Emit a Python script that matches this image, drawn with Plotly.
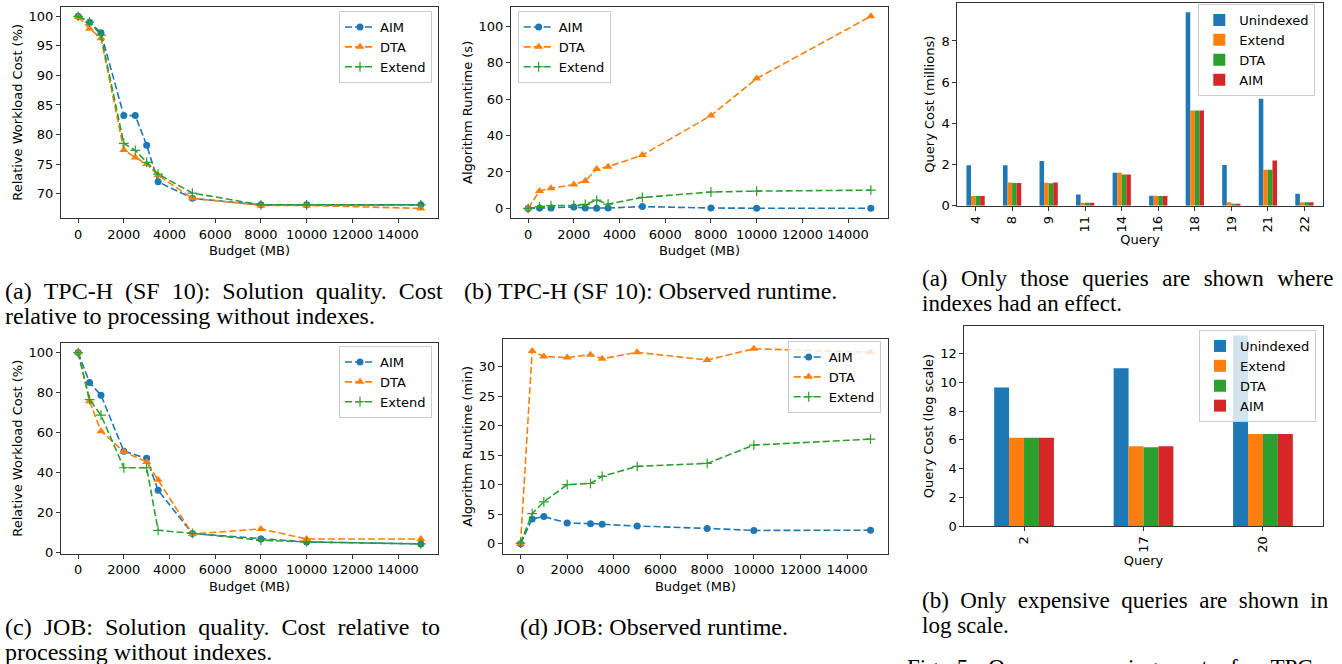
import plotly.graph_objects as go

W, H = 1342, 664

# ---------------- data ----------------
tpch_budget = [0, 500, 1000, 2000, 2500, 3000, 3500, 5000, 8000, 10000, 15000]
tpch_cost_aim = [100, 99.0, 97.2, 83.2, 83.2, 78.2, 72.0, 69.2, 68.1, 68.1, 68.1]
tpch_cost_dta = [99.9, 97.9, 96.3, 77.4, 76.1, 75.0, 73.1, 69.2, 68.0, 68.0, 67.5]
tpch_cost_extend = [100, 99.0, 96.8, 78.5, 77.3, 75.3, 73.3, 70.1, 68.1, 68.1, 68.1]

tpch_rt_aim = [0.0, 0.2, 0.2, 0.8, 0.2, 0.1, 0.2, 1.0, 0.2, 0.1, 0.1]
tpch_rt_dta = [0.0, 9.6, 11.1, 13.1, 15.1, 21.6, 22.9, 29.3, 51.0, 71.3, 105.5]
tpch_rt_extend = [0.0, 0.8, 1.5, 1.6, 2.2, 4.5, 2.4, 6.0, 9.0, 9.5, 10.0]

job_budget = [0, 500, 1000, 2000, 3000, 3500, 5000, 8000, 10000, 15000]
job_cost_aim = [100, 85.0, 78.7, 50.7, 47.1, 31.1, 9.5, 6.8, 5.3, 4.3]
job_cost_dta = [100, 75.7, 60.7, 50.4, 45.3, 36.4, 9.3, 11.8, 6.8, 6.8]
job_cost_extend = [100, 76.5, 68.7, 42.4, 42.4, 11.1, 9.6, 6.2, 5.3, 4.3]

job_rt_aim = [0.0, 4.2, 4.6, 3.5, 3.4, 3.3, 3.0, 2.6, 2.25, 2.3]
job_rt_dta = [0.0, 32.6, 31.7, 31.5, 32.0, 31.3, 32.4, 31.1, 33.0, 32.4]
job_rt_extend = [0.1, 5.1, 7.1, 10.0, 10.2, 11.4, 13.1, 13.6, 16.7, 17.7]

tpch_queries = ["4", "8", "9", "11", "14", "16", "18", "19", "21", "22"]
tpch_q_unindexed = [1.97, 1.97, 2.17, 0.55, 1.60, 0.48, 9.39, 1.98, 5.20, 0.58]
tpch_q_extend = [0.47, 1.13, 1.12, 0.14, 1.60, 0.48, 4.62, 0.17, 1.75, 0.17]
tpch_q_dta = [0.47, 1.10, 1.09, 0.14, 1.52, 0.47, 4.62, 0.08, 1.75, 0.17]
tpch_q_aim = [0.47, 1.10, 1.13, 0.14, 1.52, 0.47, 4.62, 0.08, 2.19, 0.17]

job_queries = ["2", "17", "20"]
job_q_unindexed = [9.65, 10.98, 13.26]
job_q_extend = [6.14, 5.56, 6.40]
job_q_dta = [6.14, 5.49, 6.40]
job_q_aim = [6.14, 5.56, 6.40]

# ---------------- style ----------------
BLUE, ORANGE, GREEN, RED = "#1f77b4", "#ff7f0e", "#2ca02c", "#d62728"
SANS = "DejaVu Sans"
SERIF = "Liberation Serif"
DASH = "7px,3px"
TICK_SIZE = 13
TITLE_SIZE = 13
LEG_SIZE = 13


def px_x(p):
    return p / W


def px_y(p):
    return 1 - p / H


def dom_x(a, b):
    return [px_x(a), px_x(b)]


def dom_y(top, bottom):
    return [px_y(bottom), px_y(top)]


def mrange(vals, lo_zero=False):
    lo, hi = min(vals), max(vals)
    if lo_zero:
        return [0, hi * 1.05]
    m = (hi - lo) * 0.05
    return [lo - m, hi + m]


fig = go.Figure()


def add_lines(xs, aim, dta, ext, xa, ya, leg):
    fig.add_trace(go.Scatter(x=xs, y=aim, name="AIM", mode="lines+markers",
                             line=dict(color=BLUE, width=1.6, dash=DASH),
                             marker=dict(symbol="circle", size=7, color=BLUE),
                             xaxis=xa, yaxis=ya, legend=leg))
    fig.add_trace(go.Scatter(x=xs, y=dta, name="DTA", mode="lines+markers",
                             line=dict(color=ORANGE, width=1.6, dash=DASH),
                             marker=dict(symbol="triangle-up", size=8, color=ORANGE),
                             xaxis=xa, yaxis=ya, legend=leg))
    fig.add_trace(go.Scatter(x=xs, y=ext, name="Extend", mode="lines+markers",
                             line=dict(color=GREEN, width=1.6, dash=DASH),
                             marker=dict(symbol="cross-thin", size=7, color=GREEN,
                                         line=dict(color=GREEN, width=1.2)),
                             xaxis=xa, yaxis=ya, legend=leg))


def add_bars(qs, un, ex, dt, am, xa, ya, leg):
    for nm, vals, col in (("Unindexed", un, BLUE), ("Extend", ex, ORANGE),
                          ("DTA", dt, GREEN), ("AIM", am, RED)):
        fig.add_trace(go.Bar(x=qs, y=vals, name=nm, marker=dict(color=col, line=dict(width=0)),
                             xaxis=xa, yaxis=ya, legend=leg))


add_lines(tpch_budget, tpch_cost_aim, tpch_cost_dta, tpch_cost_extend, "x", "y", "legend")
add_lines(tpch_budget, tpch_rt_aim, tpch_rt_dta, tpch_rt_extend, "x2", "y2", "legend2")
add_bars(tpch_queries, tpch_q_unindexed, tpch_q_extend, tpch_q_dta, tpch_q_aim, "x3", "y3", "legend3")
add_lines(job_budget, job_cost_aim, job_cost_dta, job_cost_extend, "x4", "y4", "legend4")
add_lines(job_budget, job_rt_aim, job_rt_dta, job_rt_extend, "x5", "y5", "legend5")
add_bars(job_queries, job_q_unindexed, job_q_extend, job_q_dta, job_q_aim, "x6", "y6", "legend6")

axis_common = dict(showline=True, mirror=True, linecolor="#333333", linewidth=1,
                   ticks="outside", ticklen=4, tickwidth=1, tickcolor="#333333",
                   showgrid=False, zeroline=False, automargin=False,
                   tickfont=dict(family=SANS, size=TICK_SIZE, color="black"))


def xaxis(domain, anchor, title, rng, standoff=5, **kw):
    d = dict(axis_common)
    d.update(domain=domain, anchor=anchor, range=rng,
             title=dict(text=title, standoff=standoff,
                        font=dict(family=SANS, size=TITLE_SIZE, color="black")))
    d.update(kw)
    return d


def yaxis(domain, anchor, title, rng, standoff=3, **kw):
    d = dict(axis_common)
    d.update(domain=domain, anchor=anchor, range=rng,
             title=dict(text=title, standoff=standoff,
                        font=dict(family=SANS, size=TITLE_SIZE, color="black")))
    d.update(kw)
    return d


bx = dict(tick0=0, dtick=2000, tickformat="d", tickangle=0)
budget_rng = mrange(tpch_budget)

layout_axes = dict(
    xaxis=xaxis(dom_x(61, 438), "y", "Budget (MB)", budget_rng, **bx),
    yaxis=yaxis(dom_y(6.7, 218), "x", "Relative Workload Cost (%)",
                mrange(tpch_cost_aim + tpch_cost_dta + tpch_cost_extend), dtick=5, tick0=0),
    xaxis2=xaxis(dom_x(511, 888), "y2", "Budget (MB)", budget_rng, **bx),
    yaxis2=yaxis(dom_y(6.7, 218), "x2", "Algorithm Runtime (s)",
                 mrange(tpch_rt_aim + tpch_rt_dta + tpch_rt_extend), dtick=20, tick0=0),
    xaxis3=xaxis(dom_x(957.3, 1322.7), "y3", "Query", [-0.5, len(tpch_queries) - 0.5],
                 type="category", tickangle=-90, standoff=3),
    yaxis3=yaxis(dom_y(2.7, 205.7), "x3", "Query Cost (millions)",
                 mrange(tpch_q_unindexed, lo_zero=True), dtick=2, tick0=0),
    xaxis4=xaxis(dom_x(61, 438), "y4", "Budget (MB)", mrange(job_budget), **bx),
    yaxis4=yaxis(dom_y(343, 553.5), "x4", "Relative Workload Cost (%)",
                 mrange(job_cost_aim + job_cost_dta + job_cost_extend), dtick=20, tick0=0),
    xaxis5=xaxis(dom_x(503, 888), "y5", "Budget (MB)", mrange(job_budget), **bx),
    yaxis5=yaxis(dom_y(339, 553.5), "x5", "Algorithm Runtime (min)",
                 mrange(job_rt_aim + job_rt_dta + job_rt_extend), dtick=5, tick0=0),
    xaxis6=xaxis(dom_x(964.3, 1322.7), "y6", "Query", [-0.5, len(job_queries) - 0.5],
                 type="category", tickangle=-90, standoff=3),
    yaxis6=yaxis(dom_y(326, 526), "x6", "Query Cost (log scale)",
                 mrange(job_q_unindexed, lo_zero=True), dtick=2, tick0=0),
)


def legend_at(xp, yp, xanchor):
    return dict(x=px_x(xp), y=px_y(yp), xanchor=xanchor, yanchor="top", xref="paper", yref="paper",
                bgcolor="rgba(255,255,255,0.8)", bordercolor="#cccccc", borderwidth=1,
                font=dict(family=SANS, size=LEG_SIZE, color="black"), itemwidth=30, tracegroupgap=0)


# ---------------- captions ----------------
def jline(text, gap):
    return gap.join(text.split(" "))


NB = "\u00a0"
GL = "\u00a0\u2005"          # justified gaps, left column
GRA = "\u00a0\u2004"         # justified gaps, right column (a)
GRB = "\u00a0\u2005"         # justified gaps, right column (b)

captions = [
    (3, 291, jline("(a) TPC-H (SF 10): Solution quality. Cost", GL), 24),
    (3, 316, jline("relative to processing without indexes.", NB), 24),
    (462, 291, jline("(b) TPC-H (SF 10): Observed runtime.", NB), 24),
    (3, 627, jline("(c) JOB: Solution quality. Cost relative to", GL), 24),
    (3, 652, jline("processing without indexes.", NB), 24),
    (518, 627, jline("(d) JOB: Observed runtime.", NB), 24),
    (920, 278, jline("(a) Only those queries are shown where", GRA), 23),
    (920, 303, jline("indexes had an effect.", NB), 23),
    (920, 600, jline("(b) Only expensive queries are shown in", GRB), 23),
    (920, 625, jline("log scale.", NB), 23),
    (905, 667, jline("Fig. 5: Query processing costs for TPC", GRA), 23),
]

annotations = [dict(x=px_x(x), y=px_y(y), xref="paper", yref="paper", xanchor="left",
                    yanchor="middle", text=t, showarrow=False,
                    font=dict(family=SERIF, size=s, color="black"))
               for x, y, t, s in captions]

fig.update_layout(
    width=W, height=H, margin=dict(l=0, r=0, t=0, b=0, pad=0),
    paper_bgcolor="white", plot_bgcolor="white",
    font=dict(family=SANS, size=13, color="black"),
    barmode="group", bargap=0.5, bargroupgap=0,
    legend=legend_at(432, 11, "right"),
    legend2=legend_at(517.7, 11, "left"),
    legend3=legend_at(1315.3, 4, "right"),
    legend4=legend_at(432, 346, "right"),
    legend5=legend_at(880.7, 341, "right"),
    legend6=legend_at(1316, 330, "right"),
    annotations=annotations,
    **layout_axes,
)

fig.write_html("out.html", config={"displayModeBar": False},
               post_script="document.body.style.margin='0px';")
